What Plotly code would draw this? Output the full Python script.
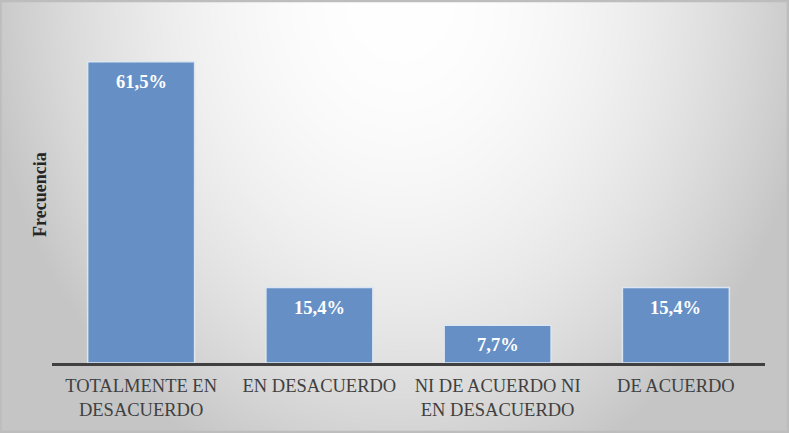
import base64
import struct
import zlib

import numpy as np
import plotly.graph_objects as go

# ---- data ----
categories = ["TOTALMENTE EN<br>DESACUERDO", "EN DESACUERDO",
              "NI DE ACUERDO NI<br>EN DESACUERDO", "DE ACUERDO"]
values = [61.5, 15.4, 7.7, 15.4]
value_labels = ["61,5%", "15,4%", "7,7%", "15,4%"]
y_title = "Frecuencia"

W, H = 789, 433
ML, MR, MT, MB = 52, 24, 20, 70
SERIF = "Liberation Serif"


def gradient_png(w, h):
    xs = np.arange(w)[None, :]
    ys = np.arange(h)[:, None]
    t2 = ((xs - 400) / 420.0) ** 2 + ((ys + 5) / 512.0) ** 2
    t2 = np.clip(t2, 0, 1)
    v = (255 - 58 * t2).astype(np.uint8)
    raw = b"".join(b"\x00" + v[r].tobytes() for r in range(h))

    def chunk(tag, data):
        c = struct.pack(">I", len(data)) + tag + data
        return c + struct.pack(">I", zlib.crc32(tag + data) & 0xffffffff)

    png = b"\x89PNG\r\n\x1a\n"
    png += chunk(b"IHDR", struct.pack(">IIBBBBB", w, h, 8, 0, 0, 0, 0))
    png += chunk(b"IDAT", zlib.compress(raw, 9))
    png += chunk(b"IEND", b"")
    return "data:image/png;base64," + base64.b64encode(png).decode()


pw = W - ML - MR
ph = H - MT - MB

fig = go.Figure()
fig.add_trace(go.Bar(
    x=categories, y=values,
    marker=dict(color="#6690c5", line=dict(color="#dce6f2", width=1.5)),
    hoverinfo="skip",
))

for c, v, lab in zip(categories, values, value_labels):
    fig.add_annotation(x=c, y=v, text="<b>" + lab + "</b>", showarrow=False,
                       yanchor="top", yshift=-8,
                       font=dict(family=SERIF, size=18.5, color="white"))

fig.add_annotation(xref="paper", yref="paper", x=0, y=0.49, xshift=-12,
                   text="<b>" + y_title + "</b>", textangle=-90, showarrow=False,
                   xanchor="center", yanchor="middle",
                   font=dict(family=SERIF, size=18, color="#262626"))

fig.add_layout_image(dict(
    source=gradient_png(W, H), xref="paper", yref="paper",
    x=-ML / pw, y=1 + MT / ph, sizex=W / pw, sizey=H / ph,
    xanchor="left", yanchor="top", sizing="stretch", layer="below",
))

fig.add_shape(type="rect", xref="paper", yref="paper",
              x0=-ML / pw + 0.5 / pw, x1=1 + (MR - 1) / pw,
              y0=-(MB - 1) / ph, y1=1 + (MT - 1) / ph,
              line=dict(color="#bdbdbd", width=2.5), layer="above")

fig.update_layout(
    width=W, height=H,
    margin=dict(l=ML, r=MR, t=MT, b=MB),
    paper_bgcolor="rgba(0,0,0,0)", plot_bgcolor="rgba(0,0,0,0)",
    bargap=0.4, showlegend=False,
    font=dict(family=SERIF),
)
fig.update_xaxes(showline=True, linecolor="#404040", linewidth=3,
                 ticks="", showgrid=False, zeroline=False, ticklabelstandoff=4,
                 tickfont=dict(family=SERIF, size=18.5, color="#404040"))
fig.update_yaxes(range=[0, 70], showticklabels=False, showgrid=False,
                 zeroline=False, showline=False, ticks="")

fig.write_html("out.html", config={"displayModeBar": False},
               post_script="document.body.style.margin='0';")
